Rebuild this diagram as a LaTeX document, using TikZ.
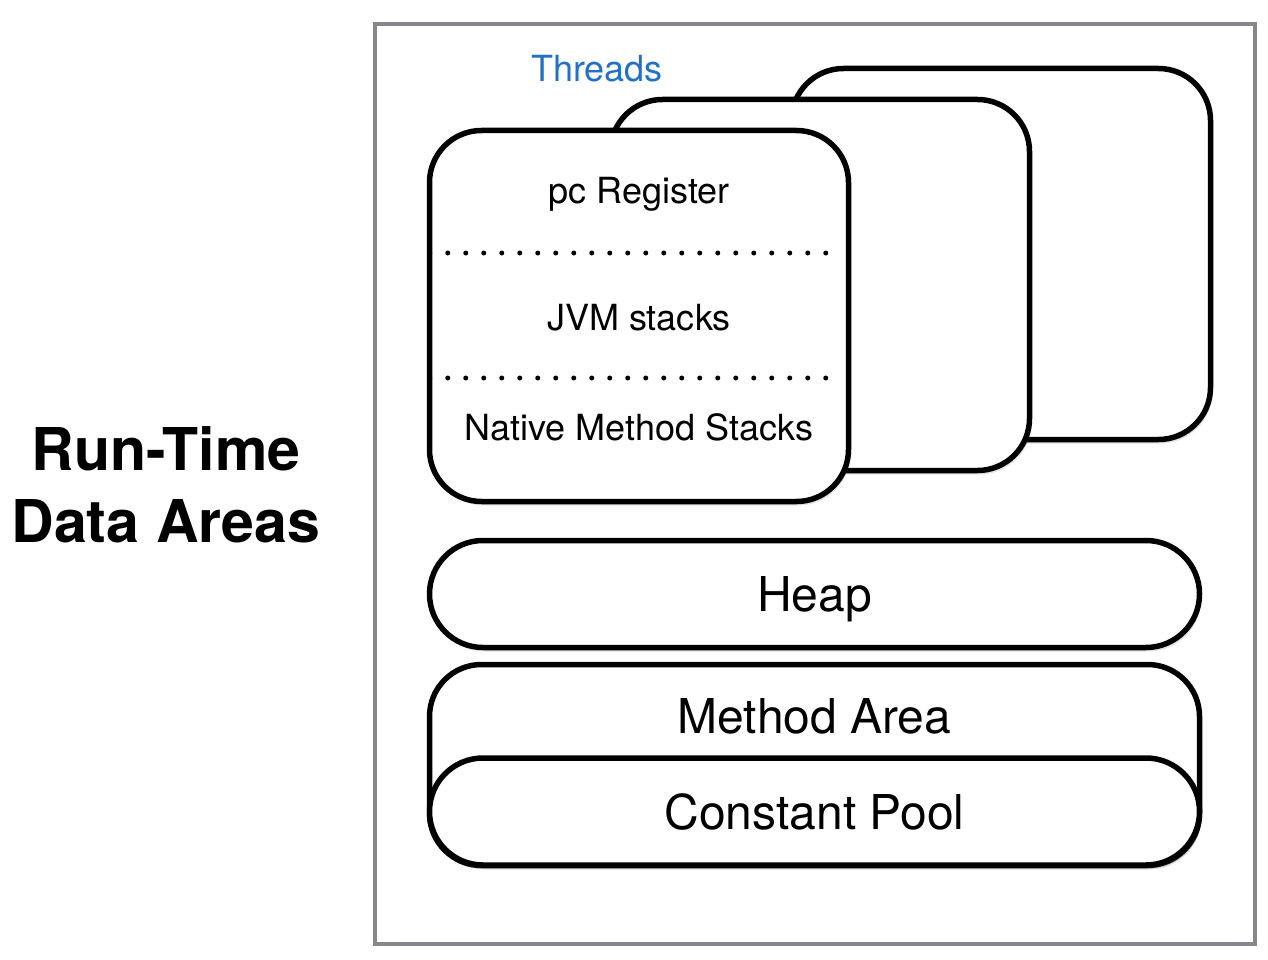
\documentclass[tikz,border=0pt]{standalone}
\usepackage{fontspec}
\setmainfont{TeX Gyre Heros}
\usetikzlibrary{shapes.misc,shadows}
\definecolor{frameGray}{RGB}{133,135,140}
\definecolor{threadBlue}{RGB}{36,112,200}
\newcommand\boxLineWidth{5.5pt}
\newcommand\frameLineWidth{4pt}
\newcommand\cornerRadius{52pt}
\newcommand\threadWidth{419pt}
\newcommand\threadHeight{371pt}
\newcommand\areaWidth{770pt}
\tikzset{
    areaBox/.style={draw=black, line width=\boxLineWidth, fill=white, inner sep=0pt, anchor=center,
        drop shadow={shadow xshift=2pt, shadow yshift=-4pt, opacity=.22}},
    threadBox/.style={areaBox, shape=rectangle, rounded corners=\cornerRadius, minimum width=\threadWidth, minimum height=\threadHeight},
    pillBox/.style={areaBox, shape=rounded rectangle, minimum width=\areaWidth, minimum height=107pt},
    smallText/.style={font=\fontsize{36}{40}\selectfont},
    bigText/.style={font=\fontsize{48}{54}\selectfont},
    separator/.style={line width=5pt, line cap=round, dash pattern=on 0pt off 18pt},
}

\begin{document}
\begin{tikzpicture}[x=1pt, y=-1pt]

    \useasboundingbox (0,0) rectangle (1268,960);

    \node (Frame) [draw=frameGray, line width=\frameLineWidth, minimum width=880pt, minimum height=919pt, anchor=center] at (814.5,484) {};

    \node (Title) [align=center, font=\fontsize{59}{72}\selectfont\bfseries] at (166,485) {Run-Time\\Data Areas};

%Threads
    \foreach \i in {2,1,0}{
        \node (Thread_\i) [threadBox] at ({639+181*\i},{316-31*\i}) {};
    }

    \node (Threads_Label) [smallText, text=threadBlue] at (597,69) {Threads};

    \node (PC_Register) [smallText] at (639,194) {pc Register};
    \node (JVM_Stacks) [smallText] at (639,318) {JVM stacks};
    \node (Native_Stacks) [smallText] at (639,427) {Native Method Stacks};

    \draw [separator] ([shift={(3,-63)}]Thread_0.west) -- ([shift={(399,-63)}]Thread_0.west);
    \draw [separator] ([shift={(3,62)}]Thread_0.west) -- ([shift={(399,62)}]Thread_0.west);

%Shared areas
    \node (Heap) [pillBox, bigText, text height=40pt, text depth=6pt] at (814.5,594) {Heap};

    \node (Method_Area) [areaBox, rounded corners=\cornerRadius, minimum width=\areaWidth, minimum height=201pt] at (814.5,765) {};
    \node (Method_Area_Label) [bigText] at (814.5,716) {Method Area};

    \node (Constant_Pool) [pillBox, bigText] at (814.5,811.5) {Constant Pool};

\end{tikzpicture}
\end{document}
